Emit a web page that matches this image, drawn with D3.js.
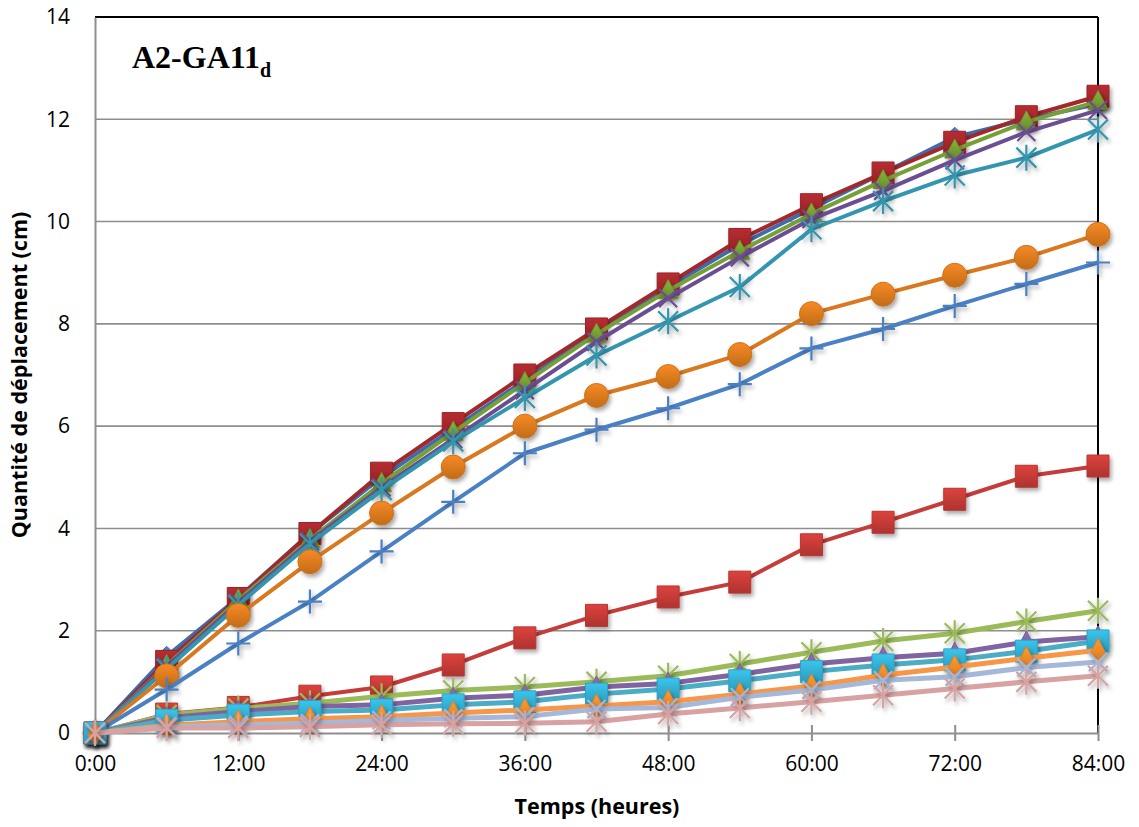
<!DOCTYPE html>
<html>
<head>
<meta charset="utf-8">
<script src="https://cdn.jsdelivr.net/npm/d3@7"></script>
<style>
  html, body { margin: 0; padding: 0; background: #fff; }
  svg { display: block; }
</style>
</head>
<body>
<div id="chart"></div>
<script>
// ---------- DATA ----------
const hours = [0, 6, 12, 18, 24, 30, 36, 42, 48, 54, 60, 66, 72, 78, 84];
const xTickValues = [0, 12, 24, 36, 48, 60, 72, 84];
const xTickLabels = ["0:00", "12:00", "24:00", "36:00", "48:00", "60:00", "72:00", "84:00"];
const yTickValues = [0, 2, 4, 6, 8, 10, 12, 14];

const blueDiamond   = [0, 1.50, 2.65, 3.90, 5.00, 5.95, 6.90, 7.85, 8.72, 9.55, 10.25, 10.95, 11.65, 12.00, 12.30];
const darkRedSquare = [0, 1.40, 2.63, 3.90, 5.08, 6.05, 7.00, 7.90, 8.78, 9.65, 10.33, 10.95, 11.55, 12.05, 12.45];
const greenTriangle = [0, 1.32, 2.60, 3.78, 4.88, 5.88, 6.85, 7.80, 8.65, 9.42, 10.15, 10.80, 11.40, 11.95, 12.35];
const purpleX       = [0, 1.30, 2.55, 3.75, 4.80, 5.75, 6.70, 7.65, 8.50, 9.30, 10.05, 10.60, 11.20, 11.75, 12.18];
const tealAsterisk  = [0, 1.25, 2.50, 3.70, 4.75, 5.70, 6.55, 7.38, 8.05, 8.72, 9.85, 10.40, 10.90, 11.25, 11.80];
const orangeCircle  = [0, 1.12, 2.30, 3.35, 4.30, 5.20, 6.00, 6.60, 6.97, 7.40, 8.20, 8.58, 8.95, 9.30, 9.75];
const bluePlus      = [0, 0.85, 1.75, 2.57, 3.55, 4.52, 5.47, 5.93, 6.35, 6.82, 7.52, 7.90, 8.35, 8.78, 9.20];
const redSquare     = [0, 0.37, 0.50, 0.72, 0.90, 1.33, 1.86, 2.30, 2.66, 2.95, 3.68, 4.12, 4.57, 5.02, 5.22];
const greenStar     = [0, 0.35, 0.48, 0.58, 0.72, 0.83, 0.90, 1.00, 1.12, 1.35, 1.58, 1.80, 1.95, 2.18, 2.39];
const purpleTri     = [0, 0.30, 0.42, 0.52, 0.55, 0.68, 0.74, 0.90, 0.97, 1.15, 1.35, 1.47, 1.56, 1.78, 1.88];
const cyanSquare    = [0, 0.25, 0.35, 0.42, 0.45, 0.55, 0.61, 0.76, 0.86, 1.02, 1.20, 1.33, 1.43, 1.60, 1.80];
const orangeDiamond = [0, 0.15, 0.22, 0.28, 0.32, 0.39, 0.45, 0.53, 0.61, 0.76, 0.92, 1.13, 1.29, 1.46, 1.62];
const lightBlueX    = [0, 0.12, 0.16, 0.19, 0.25, 0.29, 0.32, 0.47, 0.50, 0.70, 0.84, 1.03, 1.10, 1.28, 1.39];
const pinkAsterisk  = [0, 0.10, 0.10, 0.12, 0.16, 0.18, 0.19, 0.22, 0.37, 0.49, 0.61, 0.74, 0.87, 1.00, 1.12];

const seriesList = [
  { values: blueDiamond,   color: "#3E6DAE", marker: "diamond",  fill: "#4472B8", w: 4 },
  { values: darkRedSquare, color: "#A3282B", marker: "square",   fill: "#A3282B", w: 4 },
  { values: greenTriangle, color: "#76A035", marker: "triangle", fill: "#77A033", w: 4 },
  { values: purpleX,       color: "#6B4E92", marker: "x", w: 4 },
  { values: tealAsterisk,  color: "#3396AE", marker: "star", w: 4 },
  { values: orangeCircle,  color: "#D9781F", marker: "circle",   fill: "#DB7A1F", w: 4 },
  { values: bluePlus,      color: "#4A80C4", marker: "plus", w: 4 },
  { values: redSquare,     color: "#C53D3A", marker: "square",   fill: "#C43A36", w: 4 },
  { values: greenStar,     color: "#9BBB59", marker: "star", w: 5 },
  { values: purpleTri,     color: "#8064A2", marker: "triangle", fill: "#8064A2", w: 5 },
  { values: cyanSquare,    color: "#4BACC6", marker: "square",   fill: "#33AED2", w: 5 },
  { values: orangeDiamond, color: "#F79646", marker: "diamondTall", fill: "#F58A2A", w: 5 },
  { values: lightBlueX,    color: "#A5B8D9", marker: "x", w: 5 },
  { values: pinkAsterisk,  color: "#D8A2A2", marker: "star", w: 5 }
];

// ---------- LAYOUT ----------
const W = 1139, H = 827;
const plot = { left: 95, right: 1098, top: 17, bottom: 733 };
const sansFont = "'Open Sans', Lato, sans-serif";

const svg = d3.select("#chart").append("svg")
  .attr("width", W).attr("height", H);

const defs = svg.append("defs");
const f = defs.append("filter").attr("id", "shadow")
  .attr("x", "-50%").attr("y", "-50%").attr("width", "200%").attr("height", "200%");
f.append("feDropShadow").attr("dx", 2).attr("dy", 3).attr("stdDeviation", 2)
  .attr("flood-color", "#000").attr("flood-opacity", 0.35);

function gradient(id, color) {
  const g = defs.append("linearGradient").attr("id", id)
    .attr("x1", 0).attr("y1", 0).attr("x2", 0).attr("y2", 1);
  g.append("stop").attr("offset", "0%").attr("stop-color", d3.color(color).brighter(0.35));
  g.append("stop").attr("offset", "100%").attr("stop-color", d3.color(color).darker(0.35));
  return `url(#${id})`;
}

const x = d3.scaleLinear().domain([0, 84]).range([plot.left, plot.right]);
const y = d3.scaleLinear().domain([0, 14]).range([plot.bottom, plot.top]);

// gridlines
svg.append("g").selectAll("line").data(yTickValues.filter(v => v > 0 && v < 14)).join("line")
  .attr("x1", plot.left).attr("x2", plot.right)
  .attr("y1", d => y(d)).attr("y2", d => y(d))
  .attr("stroke", "#8E8E8E").attr("stroke-width", 1.6);

// frame: top and right black
svg.append("line").attr("x1", plot.left).attr("x2", plot.right).attr("y1", plot.top).attr("y2", plot.top)
  .attr("stroke", "#000").attr("stroke-width", 2);
svg.append("line").attr("x1", plot.right).attr("x2", plot.right).attr("y1", plot.top).attr("y2", plot.bottom)
  .attr("stroke", "#000").attr("stroke-width", 2);

// x axis
const xAxis = d3.axisBottom(x).tickValues(xTickValues)
  .tickFormat((d, i) => xTickLabels[i]).tickSizeInner(8).tickSizeOuter(0).tickPadding(15);
const gx = svg.append("g").attr("transform", `translate(0,${plot.bottom})`).call(xAxis);
gx.select(".domain").attr("stroke", "#8E8E8E").attr("stroke-width", 2);
gx.selectAll(".tick line").attr("stroke", "#8E8E8E").attr("stroke-width", 2).attr("y1", -8);
gx.selectAll(".tick text").attr("font-family", sansFont)
  .attr("font-size", 21).attr("fill", "#000");

// y axis
const yAxis = d3.axisLeft(y).tickValues(yTickValues).tickSize(0).tickPadding(25);
const gy = svg.append("g").attr("transform", `translate(${plot.left},0)`).call(yAxis);
gy.select(".domain").attr("stroke", "#8E8E8E").attr("stroke-width", 2);
gy.selectAll(".tick text").attr("font-family", sansFont)
  .attr("font-size", 21).attr("fill", "#000");

// axis titles
svg.append("text").attr("x", 597).attr("y", 814).attr("text-anchor", "middle")
  .attr("font-family", sansFont).attr("font-weight", "bold")
  .attr("font-size", 21.5).text("Temps (heures)");
svg.append("text").attr("transform", "translate(27,375) rotate(-90)").attr("text-anchor", "middle")
  .attr("font-family", sansFont).attr("font-weight", "bold")
  .attr("font-size", 21.5).text("Quantité de déplacement (cm)");

// panel title
const t = svg.append("text").attr("x", 132).attr("y", 68)
  .attr("font-family", "'Liberation Serif', 'Times New Roman', serif").attr("font-weight", "bold")
  .attr("font-size", 32);
t.append("tspan").text("A2-GA11");
t.append("tspan").attr("dy", 9).attr("font-size", 20).text("d");

// ---------- MARKERS ----------
function markerPath(type) {
  switch (type) {
    case "diamond":  return "M0,-10L10,0L0,10L-10,0Z";
    case "diamondTall": return "M0,-12L7,2L0,12L-7,2Z";
    case "square":   return "M-11,-11H11V11H-11Z";
    case "triangle": return "M0,-11L10,8H-10Z";
    case "circle":   return "M12,0A12,12 0 1,1 -12,0A12,12 0 1,1 12,0Z";
    case "x":        return "M-9,-9L9,9M-9,9L9,-9";
    case "plus":     return "M-12,0H12M0,-12V12";
    case "star":     return "M-10,-10L10,10M-10,10L10,-10M0,-13V13";
  }
}
const strokeMarkers = new Set(["x", "plus", "star"]);

const line = d3.line().x((d, i) => x(hours[i])).y(d => y(d));

seriesList.forEach((s, si) => {
  const g = svg.append("g");
  g.append("path").datum(s.values)
    .attr("d", line).attr("fill", "none")
    .attr("stroke", s.color).attr("stroke-width", s.w)
    .attr("stroke-linejoin", "round");
  const fillUrl = s.fill ? gradient("g" + si, s.fill) : null;
  g.selectAll("path.m").data(s.values).join("path").attr("class", "m")
    .attr("transform", (d, i) => `translate(${x(hours[i])},${y(d)})`)
    .attr("d", markerPath(s.marker))
    .attr("filter", "url(#shadow)")
    .each(function () {
      const el = d3.select(this);
      if (strokeMarkers.has(s.marker)) {
        el.attr("fill", "none").attr("stroke", s.color).attr("stroke-width", 2.2);
      } else {
        el.attr("fill", fillUrl).attr("stroke", d3.color(s.fill).darker(0.2)).attr("stroke-width", 1);
      }
    });
});
</script>
</body>
</html>
